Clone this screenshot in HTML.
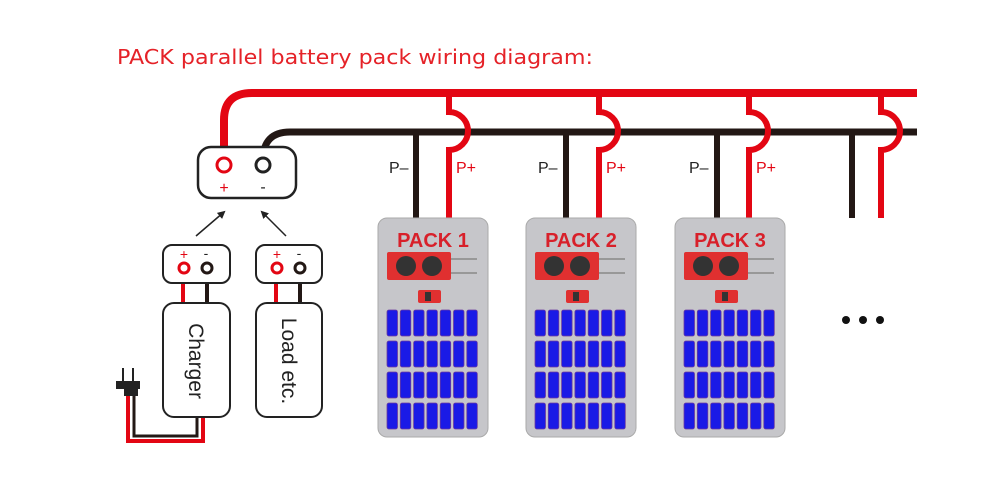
<!DOCTYPE html>
<html><head><meta charset="utf-8"><style>
body{margin:0;background:#fff;width:1000px;height:495px;overflow:hidden}
svg{display:block}
</style></head><body>
<svg width="1000" height="495" viewBox="0 0 1000 495" font-family="Liberation Sans, sans-serif">
<defs>
<marker id="ah" markerWidth="8" markerHeight="8" refX="6" refY="4" orient="auto" markerUnits="userSpaceOnUse"><path d="M0,0 L8,4 L0,8 Z" fill="#222"/></marker>
</defs>
<text x="117" y="64" font-size="20" fill="#e52228" font-family="DejaVu Sans, sans-serif" textLength="476" lengthAdjust="spacingAndGlyphs">PACK parallel battery pack wiring diagram:</text>

<path d="M224,160 L224,120 Q224,93 252,93 L917,93" fill="none" stroke="#e30613" stroke-width="8"/>
<path d="M263,160 Q263,132 290,132 L917,132" fill="none" stroke="#231815" stroke-width="7"/>

<g fill="none" stroke-width="6">
<path d="M416,132 V218" stroke="#231815"/>
<path d="M449,93 V112 A18,18 0 0 1 449,150 V218" stroke="#e30613"/>
<path d="M566,132 V218" stroke="#231815"/>
<path d="M599,93 V112 A18,18 0 0 1 599,150 V218" stroke="#e30613"/>
<path d="M717,132 V218" stroke="#231815"/>
<path d="M749,93 V112 A18,18 0 0 1 749,150 V218" stroke="#e30613"/>
<path d="M852,132 V218" stroke="#231815"/>
<path d="M881,93 V112 A18,18 0 0 1 881,150 V218" stroke="#e30613"/>
</g>
<g font-size="16">
<text x="389" y="173" fill="#222">P–</text><text x="456" y="173" fill="#e30613">P+</text>
<text x="538" y="173" fill="#222">P–</text><text x="606" y="173" fill="#e30613">P+</text>
<text x="689" y="173" fill="#222">P–</text><text x="756" y="173" fill="#e30613">P+</text>
</g>

<rect x="198" y="147" width="98" height="51" rx="13" fill="#fff" stroke="#222" stroke-width="2.5"/>
<circle cx="224" cy="165" r="7" fill="#fff" stroke="#e30613" stroke-width="3"/>
<circle cx="263" cy="165" r="7" fill="#fff" stroke="#222" stroke-width="3"/>
<text x="224" y="193" text-anchor="middle" font-size="16" fill="#e30613">+</text>
<text x="263" y="192" text-anchor="middle" font-size="16" fill="#222">-</text>
<line x1="196" y1="236" x2="224" y2="212" stroke="#222" stroke-width="1.5" marker-end="url(#ah)"/>
<line x1="286" y1="236" x2="262" y2="212" stroke="#222" stroke-width="1.5" marker-end="url(#ah)"/>

<g stroke-width="4">
<path d="M183,268 V303" stroke="#e30613"/><path d="M207,268 V303" stroke="#231815"/>
<path d="M276,268 V303" stroke="#e30613"/><path d="M300,268 V303" stroke="#231815"/>
</g>
<g fill="#fff" stroke="#222" stroke-width="2">
<rect x="163" y="245" width="67" height="38" rx="9"/>
<rect x="256" y="245" width="66" height="38" rx="9"/>
</g>
<g stroke-width="3" fill="#fff">
<circle cx="184" cy="268" r="5" stroke="#e30613"/><circle cx="207" cy="268" r="5" stroke="#231815"/>
<circle cx="277" cy="268" r="5" stroke="#e30613"/><circle cx="300" cy="268" r="5" stroke="#231815"/>
</g>
<g font-size="14"><text x="184" y="259" text-anchor="middle" fill="#e30613">+</text><text x="206" y="258" text-anchor="middle" fill="#222">-</text>
<text x="277" y="259" text-anchor="middle" fill="#e30613">+</text><text x="299" y="258" text-anchor="middle" fill="#222">-</text></g>
<path d="M128,395 V441 H203 V412" fill="none" stroke="#e30613" stroke-width="4"/>
<path d="M134,395 V436 H197 V412" fill="none" stroke="#231815" stroke-width="3"/>
<rect x="163" y="303" width="67" height="114" rx="11" fill="#fff" stroke="#222" stroke-width="2"/>
<rect x="256" y="303" width="66" height="114" rx="11" fill="#fff" stroke="#222" stroke-width="2"/>
<text transform="translate(189,361) rotate(90)" text-anchor="middle" font-size="21" fill="#222">Charger</text>
<text transform="translate(282,361) rotate(90)" text-anchor="middle" font-size="21" fill="#222">Load etc.</text>
<rect x="116" y="381" width="24" height="8" fill="#222"/><rect x="124" y="388" width="14" height="8" fill="#222"/>
<path d="M123,381 V368 M133,381 V368" stroke="#222" stroke-width="2"/>

<g>
<rect x="378" y="218" width="110" height="219" rx="9" fill="#c6c6ca" stroke="#aaa"/>
<text x="433" y="247" text-anchor="middle" font-size="20" font-weight="bold" fill="#d8202a">PACK 1</text>
<rect x="387" y="252" width="64" height="28" rx="2" fill="#e03030"/>
<circle cx="406" cy="266" r="10" fill="#333"/><circle cx="432" cy="266" r="10" fill="#333"/>
<path d="M451,259 H477 M451,273 H477" stroke="#888" stroke-width="1.5"/>
<rect x="418" y="290" width="23" height="13" rx="2" fill="#e03030"/><rect x="425" y="292" width="6" height="9" fill="#333"/>
</g>
<g>
<rect x="526" y="218" width="110" height="219" rx="9" fill="#c6c6ca" stroke="#aaa"/>
<text x="581" y="247" text-anchor="middle" font-size="20" font-weight="bold" fill="#d8202a">PACK 2</text>
<rect x="535" y="252" width="64" height="28" rx="2" fill="#e03030"/>
<circle cx="554" cy="266" r="10" fill="#333"/><circle cx="580" cy="266" r="10" fill="#333"/>
<path d="M599,259 H625 M599,273 H625" stroke="#888" stroke-width="1.5"/>
<rect x="566" y="290" width="23" height="13" rx="2" fill="#e03030"/><rect x="573" y="292" width="6" height="9" fill="#333"/>
</g>
<g>
<rect x="675" y="218" width="110" height="219" rx="9" fill="#c6c6ca" stroke="#aaa"/>
<text x="730" y="247" text-anchor="middle" font-size="20" font-weight="bold" fill="#d8202a">PACK 3</text>
<rect x="684" y="252" width="64" height="28" rx="2" fill="#e03030"/>
<circle cx="703" cy="266" r="10" fill="#333"/><circle cx="729" cy="266" r="10" fill="#333"/>
<path d="M748,259 H774 M748,273 H774" stroke="#888" stroke-width="1.5"/>
<rect x="715" y="290" width="23" height="13" rx="2" fill="#e03030"/><rect x="722" y="292" width="6" height="9" fill="#333"/>
</g>
<circle cx="846" cy="320" r="4" fill="#111"/><circle cx="863" cy="320" r="4" fill="#111"/><circle cx="880" cy="320" r="4" fill="#111"/>
<g id="allcells"></g>
</svg>
<script>
var g=document.getElementById('allcells'),ns='http://www.w3.org/2000/svg';
[387,535,684].forEach(function(px){for(var r=0;r<4;r++)for(var c=0;c<7;c++){var e=document.createElementNS(ns,'rect');e.setAttribute('x',px+c*13.3);e.setAttribute('y',310+r*31);e.setAttribute('width',10.5);e.setAttribute('height',26);e.setAttribute('rx',2);e.setAttribute('fill','#1a1ae6');e.setAttribute('stroke','#6b3aa0');e.setAttribute('stroke-width','0.8');g.appendChild(e);}});
</script>
</body></html>
